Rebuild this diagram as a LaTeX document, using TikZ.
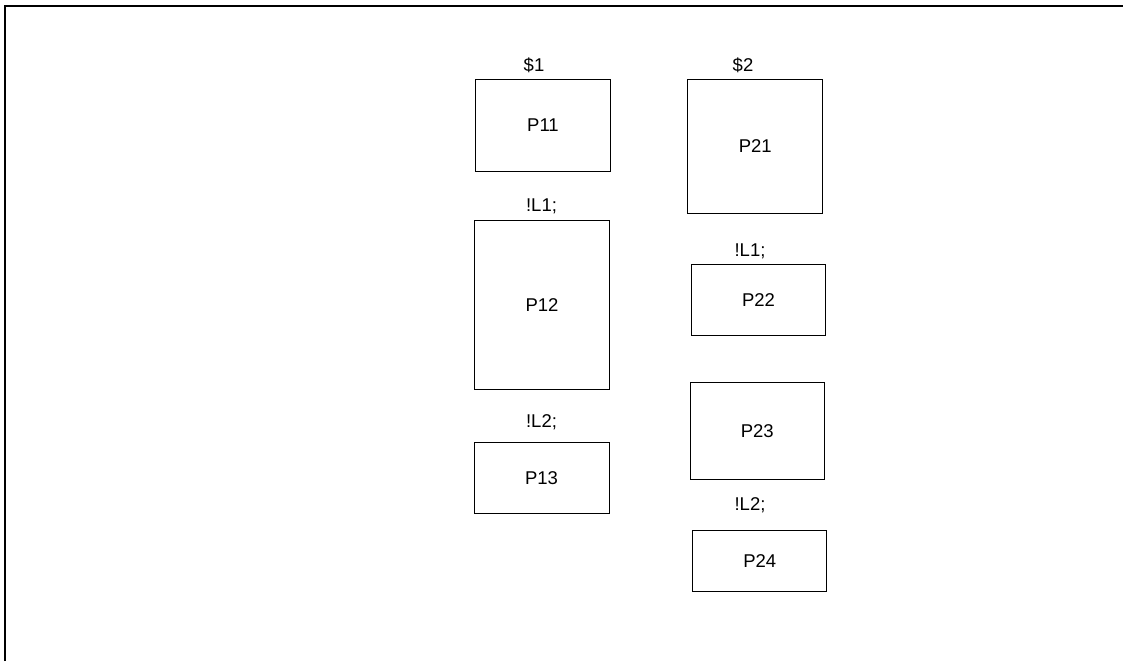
\documentclass[tikz,border=0pt]{standalone}
\usepackage{fontspec}
\setmainfont{Liberation Sans}
\usepackage{tikz}
\usetikzlibrary{positioning}

\begin{document}
\begin{tikzpicture}[x=1pt, y=-1pt]
  \tikzset{proc/.style={rectangle, draw=black, line width=1pt,
                        inner sep=0pt, font=\fontsize{18.5}{20}\selectfont}}
  \tikzset{tag/.style={inner sep=0pt, font=\fontsize{18.5}{20}\selectfont}}
  \useasboundingbox (0,0) rectangle (1123,661);

  % open outer frame
  \draw[line width=2pt] (5,661) -- (5,6) -- (1123,6);

  % first column
  \node[tag] (s1) at (534, 65) {\$1};
  \node[proc, minimum width=135pt, minimum height=92pt] (p11) at (543, 125.5) {P11};
  \node[tag] (l11) at (541.5, 206) {!L1;};
  \node[proc, minimum width=135pt, minimum height=169pt] (p12) at (542, 305.3) {P12};
  \node[tag] (l12) at (541.5, 422) {!L2;};
  \node[proc, minimum width=135pt, minimum height=71pt] (p13) at (541.5, 478) {P13};

  % second column
  \node[tag] (s2) at (743, 65) {\$2};
  \node[proc, minimum width=135pt, minimum height=134pt] (p21) at (755.2, 146.2) {P21};
  \node[tag] (l21) at (750, 251) {!L1;};
  \node[proc, minimum width=134pt, minimum height=71pt] (p22) at (758.5, 299.7) {P22};
  \node[proc, minimum width=134pt, minimum height=97pt] (p23) at (757.2, 430.8) {P23};
  \node[tag] (l22) at (750, 505) {!L2;};
  \node[proc, minimum width=134pt, minimum height=61pt] (p24) at (759.7, 561.2) {P24};
\end{tikzpicture}
\end{document}
